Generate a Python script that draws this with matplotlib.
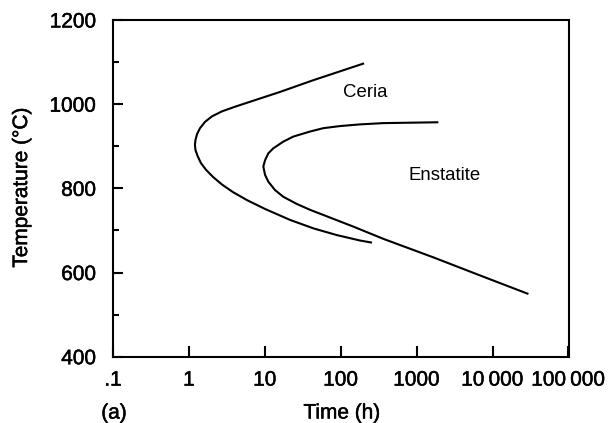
import matplotlib
matplotlib.use("Agg")
import matplotlib.pyplot as plt
import matplotlib.patheffects as pe
from matplotlib.ticker import FixedLocator, FixedFormatter, NullLocator

plt.rcParams['font.family'] = ['Liberation Sans', 'DejaVu Sans']

# Time-temperature-transformation curves (time in hours, temperature in degC)
ceria_time = [203, 43.5, 15.8, 4.05, 2.73, 2.01, 1.63, 1.40, 1.28, 1.22,
              1.20, 1.22, 1.30, 1.44, 1.68, 2.08, 2.73, 3.81, 5.83, 10.07,
              21.5, 43.5, 88.5, 180, 258]
ceria_temp = [1097, 1057, 1029, 994, 983, 971, 958, 943, 929, 915,
              903, 891, 877, 860, 844, 827, 809, 791, 772, 751,
              725, 705, 689, 676, 671]

enstatite_time = [1930, 819, 364, 180, 98, 59, 39.4, 23.7, 17.5, 12.9,
                  11.1, 10.07, 9.55, 10.07, 11.1, 13.6, 17.5, 26.3, 39.4,
                  147, 364, 1660, 7570, 29650]
enstatite_temp = [957, 956, 955, 952, 948, 943, 935, 923, 911, 895,
                  883, 867, 852, 832, 816, 796, 780, 763, 749,
                  709, 680, 636, 590, 549]

x_ticks = [0.1, 1, 10, 100, 1000, 10000, 100000]
x_tick_labels = ['.1', '1', '10', '100', '1000', '10\u2009000', '100\u2009000']
y_major = [400, 600, 800, 1000, 1200]
y_minor = [500, 700, 900, 1100]

heavy = [pe.withStroke(linewidth=0.35, foreground='black')]

fig = plt.figure(figsize=(6.08, 4.23), dpi=100)
ax = fig.add_axes([113 / 608, 1 - 356.7 / 423, 455.5 / 608, 336.7 / 423])

ax.plot(ceria_time, ceria_temp, color='black', lw=1.5, solid_capstyle='butt',
        solid_joinstyle='round')
ax.plot(enstatite_time, enstatite_temp, color='black', lw=1.5,
        solid_capstyle='butt', solid_joinstyle='round')

ax.set_xscale('log')
ax.set_xlim(0.1, 100000)
ax.set_ylim(400, 1200)

ax.xaxis.set_major_locator(FixedLocator(x_ticks))
ax.xaxis.set_major_formatter(FixedFormatter(x_tick_labels))
ax.xaxis.set_minor_locator(NullLocator())
ax.yaxis.set_major_locator(FixedLocator(y_major))
ax.yaxis.set_minor_locator(FixedLocator(y_minor))

for s in ax.spines.values():
    s.set_linewidth(1.5)

ax.tick_params(axis='x', which='major', direction='in', length=8, width=1.5,
               labelsize=15, pad=10)
ax.tick_params(axis='y', which='major', direction='in', length=7.2, width=1.5,
               labelsize=15, pad=12)
ax.tick_params(axis='y', which='minor', direction='in', length=4.3, width=1.5)

for lbl in ax.get_xticklabels() + ax.get_yticklabels():
    lbl.set_path_effects(heavy)

ax.text(108, 1018, 'Ceria', fontsize=13.4, ha='left', va='baseline')
ax.text(778, 820, 'Enstatite', fontsize=13.4, ha='left', va='baseline')

fig.text(21.5 / 608, 1 - 187.5 / 423, 'Temperature (°C)', rotation=90,
         fontsize=15, ha='center', va='center', path_effects=heavy)
fig.text(342 / 608, 1 - 413 / 423, 'Time (h)', fontsize=15,
         ha='center', va='center', path_effects=heavy)
fig.text(114 / 608, 1 - 413 / 423, '(a)', fontsize=15,
         ha='center', va='center', path_effects=heavy)

fig.savefig('out.png', dpi=100)
